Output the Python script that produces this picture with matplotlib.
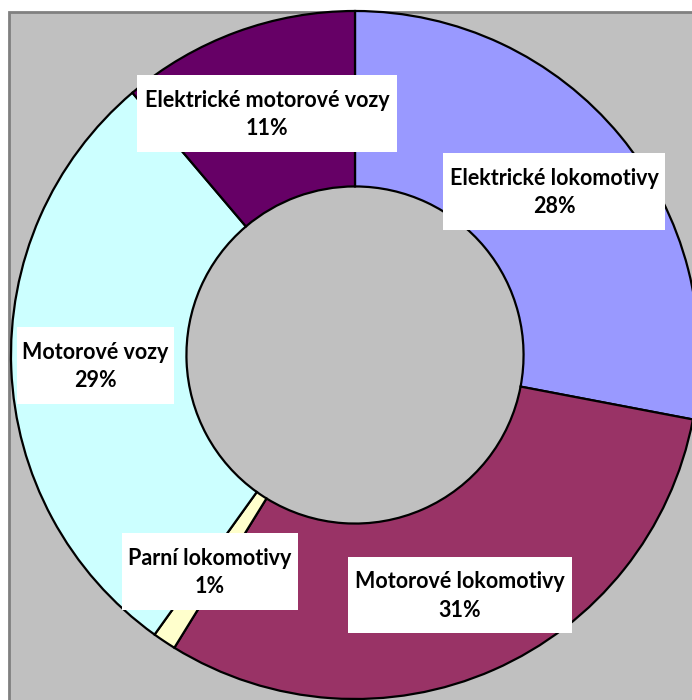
import matplotlib
matplotlib.use("Agg")
import matplotlib.pyplot as plt
from matplotlib.patches import Rectangle

categories = ["Elektrické lokomotivy", "Motorové lokomotivy", "Parní lokomotivy",
              "Motorové vozy", "Elektrické motorové vozy"]
values = [28.0, 30.8, 1.1, 28.9, 11.2]
colors = ["#9999FF", "#993366", "#FFFFCC", "#CCFFFF", "#660066"]

# label box layout in pixel coords (image y downward): x0, y0, x1, y1
label_boxes = [(443, 153, 665, 230), (348, 557, 572, 633), (122, 533, 298, 610),
               (17, 327, 174, 404), (137, 75, 397, 152)]

W, H = 692, 700
fig = plt.figure(figsize=(W / 100, H / 100), dpi=100)
fig.patch.set_facecolor("white")
ax = fig.add_axes([0, 0, 1, 1])

# plot area background
ax.add_patch(Rectangle((8.5, -20), W + 50, H - 11.5 + 20, facecolor="#C0C0C0",
                       edgecolor="#808080", linewidth=2, zorder=0))

cx, cy, R = 355, H - 355, 344
ax.pie(values, colors=colors, startangle=90, counterclock=False,
       center=(cx, cy), radius=R, frame=True,
       wedgeprops=dict(width=R * 0.51, edgecolor="black", linewidth=1.6))
ax.set_xlim(0, W)
ax.set_ylim(0, H)
ax.set_aspect("equal")
ax.axis("off")

total = sum(values)
for cat, v, (x0, y0, x1, y1) in zip(categories, values, label_boxes):
    ax.add_patch(Rectangle((x0, H - y1), x1 - x0, y1 - y0, facecolor="white",
                           edgecolor="none", zorder=5))
    ax.text((x0 + x1) / 2, H - (y0 + y1) / 2 - 1, f"{cat}\n{round(v / total * 100):.0f}%",
            ha="center", va="center", fontsize=15.5, fontweight="bold",
            family="Lato", linespacing=1.42, color="black", zorder=6)

fig.savefig("out.png", dpi=100, facecolor="white")
